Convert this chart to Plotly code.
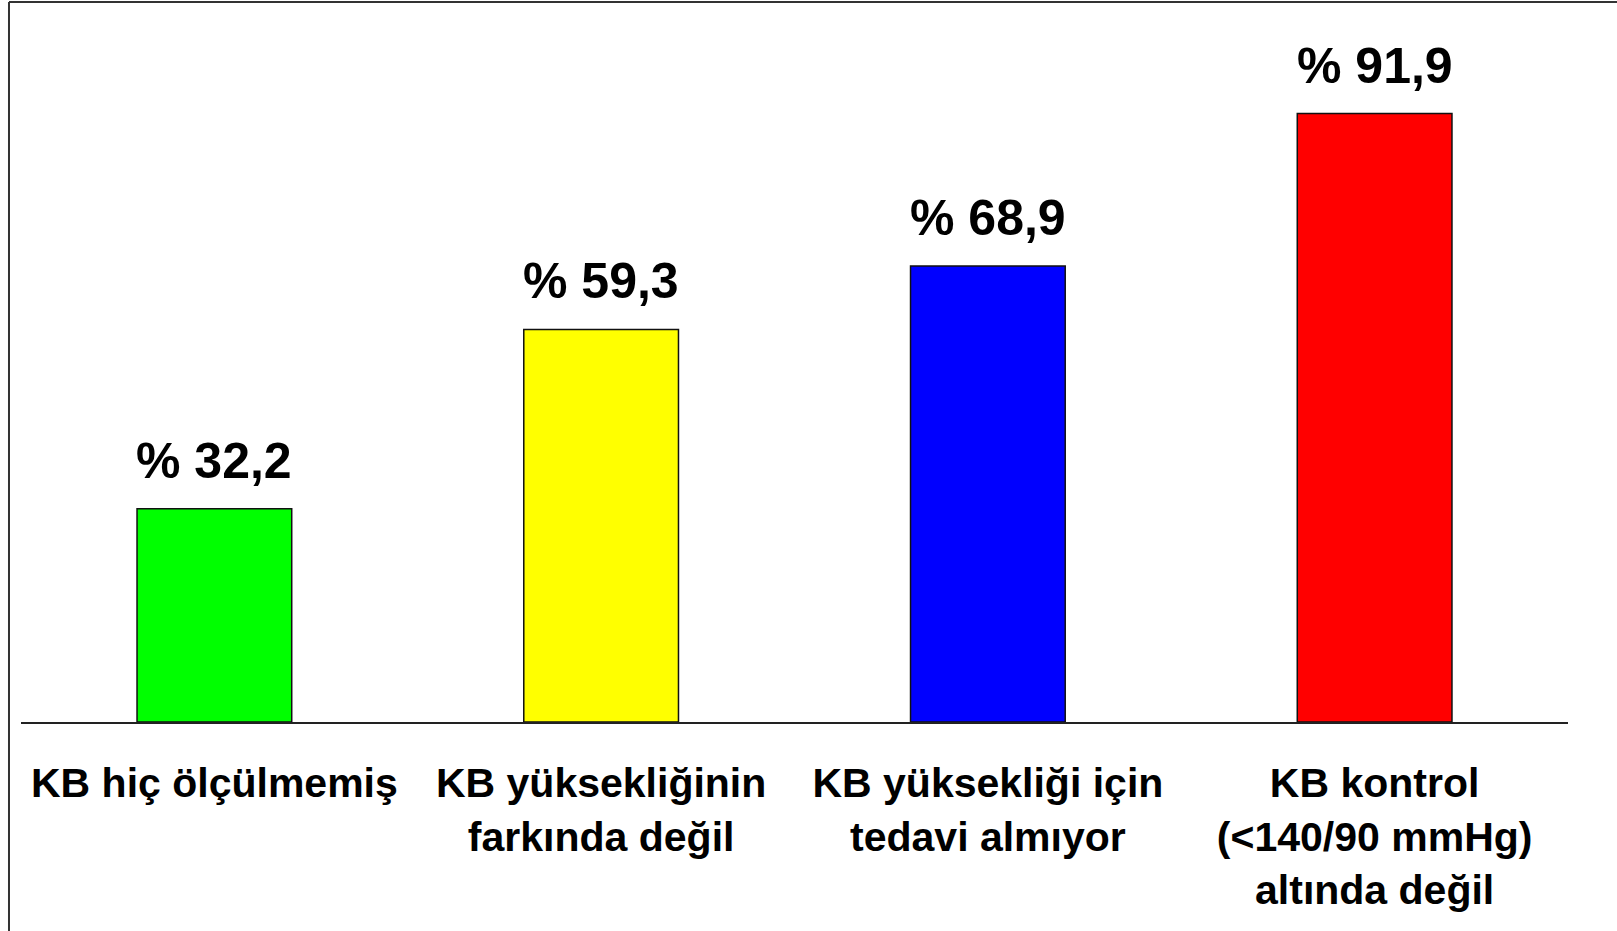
import plotly.graph_objects as go

categories = ["KB hiç ölçülmemiş", "KB yüksekliğinin farkında değil",
              "KB yüksekliği için tedavi almıyor", "KB kontrol (<140/90 mmHg) altında değil"]
tick_labels = ["KB hiç ölçülmemiş", "KB yüksekliğinin<br>farkında değil",
               "KB yüksekliği için<br>tedavi almıyor", "KB kontrol<br>(<140/90 mmHg)<br>altında değil"]
values = [32.2, 59.3, 68.9, 91.9]
bar_colors = ["#00FF00", "#FFFF00", "#0000FF", "#FF0000"]

FONT = "Liberation Sans, Arial, sans-serif"

fig = go.Figure()
fig.add_trace(go.Bar(
    x=categories, y=values,
    marker=dict(color=bar_colors, line=dict(color="#111111", width=1.5)),
    hoverinfo="skip",
))

for c, v in zip(categories, values):
    fig.add_annotation(
        x=c, y=v, xref="x", yref="y",
        text="% " + f"{v:.1f}".replace(".", ","),
        showarrow=False, yanchor="bottom", yshift=18,
        font=dict(family=FONT, size=50, color="black", weight="bold"),
    )

# outer frame (left and top edges)
fig.add_shape(type="line", xref="paper", yref="paper",
              x0=-0.00776, x1=-0.00776, y0=1.0876, y1=-0.33,
              line=dict(color="#333333", width=2))
fig.add_shape(type="line", xref="paper", yref="paper",
              x0=-0.00776, x1=1.04, y0=1.0876, y1=1.0876,
              line=dict(color="#333333", width=2))

fig.update_layout(
    width=1617, height=931,
    margin=dict(l=21, r=49, t=60, b=209),
    plot_bgcolor="white", paper_bgcolor="white",
    bargap=0.6, showlegend=False,
    xaxis=dict(
        tickmode="array", tickvals=categories, ticktext=tick_labels,
        showline=True, linecolor="#222222", linewidth=2,
        showgrid=False, ticks="", ticklabelstandoff=24,
        tickfont=dict(family=FONT, size=41, color="black", weight="bold"),
    ),
    yaxis=dict(range=[0, 100], visible=False, showgrid=False, zeroline=False),
)

fig.write_html("out.html", config={"displayModeBar": False},
               post_script="document.body.style.margin='0';")
